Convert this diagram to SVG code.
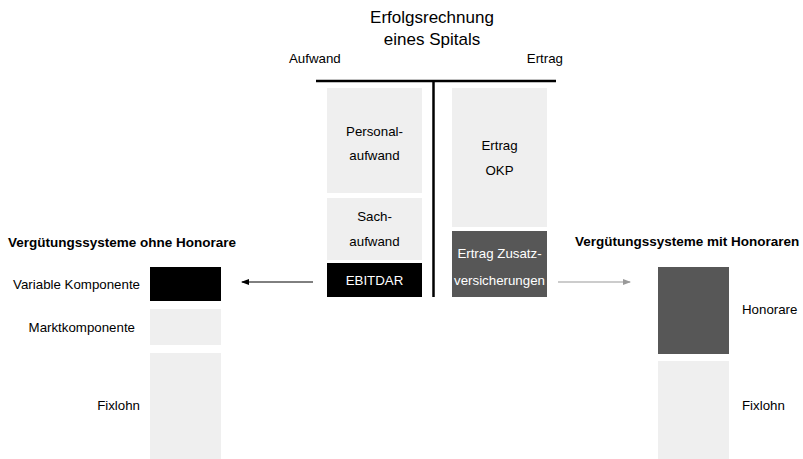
<svg xmlns="http://www.w3.org/2000/svg" width="803" height="459" viewBox="0 0 803 459">
<defs>
<style>
text{font-family:"Liberation Sans",Arial,sans-serif;font-size:13.3px;fill:#000}
.t{font-size:17px}
.b{font-weight:bold;font-size:13.5px}
.c{text-anchor:middle}
.r{text-anchor:end}
.w{fill:#fff}
.lt{fill:#efefef}
.dk{fill:#575757}
.bk{fill:#000}
</style>
<marker id="ab" markerWidth="8" markerHeight="6" refX="7" refY="3" orient="auto" markerUnits="userSpaceOnUse"><path d="M0,0 L8,3 L0,6 z" fill="#000"/></marker>
<marker id="ag" markerWidth="8" markerHeight="6" refX="7" refY="3" orient="auto" markerUnits="userSpaceOnUse"><path d="M0,0 L8,3 L0,6 z" fill="#999"/></marker>
</defs>
<rect width="803" height="459" fill="#fff"/>
<g id="title">
<text class="t c" x="432" y="23">Erfolgsrechnung</text>
<text class="t c" x="432" y="45">eines Spitals</text>
<text x="289" y="63">Aufwand</text>
<text class="r" x="563" y="63">Ertrag</text>
<line x1="316" y1="81" x2="556" y2="81" stroke="#000" stroke-width="2.5"/>
<line x1="433.5" y1="81" x2="433.5" y2="297" stroke="#000" stroke-width="2.5"/>
</g>
<g id="personalaufwand"><rect class="lt" x="327" y="88" width="95" height="105"/><text class="c" x="374.5" y="136">Personal-</text><text class="c" x="374.5" y="160">aufwand</text></g>
<g id="sachaufwand"><rect class="lt" x="327" y="198" width="95" height="62"/><text class="c" x="374.5" y="221">Sach-</text><text class="c" x="374.5" y="246">aufwand</text></g>
<g id="ebitdar"><rect class="bk" x="327" y="263" width="95" height="34"/><text class="c w" x="374.5" y="285">EBITDAR</text></g>
<g id="ertragokp"><rect class="lt" x="452" y="88" width="95" height="139"/><text class="c" x="499.5" y="150">Ertrag</text><text class="c" x="499.5" y="175">OKP</text></g>
<g id="ertragzusatz"><rect class="dk" x="452" y="231" width="95" height="66"/><text class="c w" x="499.5" y="258">Ertrag Zusatz-</text><text class="c w" x="499.5" y="285">versicherungen</text></g>
<g id="ohne">
<text class="b" x="8" y="247">Vergütungssysteme ohne Honorare</text>
<rect class="bk" x="150" y="267" width="71" height="34"/>
<text class="r" x="140" y="289">Variable Komponente</text>
<rect class="lt" x="150" y="309" width="71" height="36"/>
<text class="r" x="135" y="332">Marktkomponente</text>
<rect class="lt" x="150" y="353" width="71" height="106"/>
<text class="r" x="140" y="410">Fixlohn</text>
</g>
<g id="mit">
<text class="b" x="575" y="246">Vergütungssysteme mit Honoraren</text>
<rect class="dk" x="658" y="267" width="71" height="87"/>
<text x="742" y="314">Honorare</text>
<rect class="lt" x="658" y="361" width="71" height="98"/>
<text x="742" y="410">Fixlohn</text>
</g>
<g id="connectors">
<line x1="313" y1="282" x2="242" y2="282" stroke="#000" stroke-width="1" marker-end="url(#ab)"/>
<line x1="558" y1="282" x2="630" y2="282" stroke="#999" stroke-width="1" marker-end="url(#ag)"/>
</g>
</svg>
